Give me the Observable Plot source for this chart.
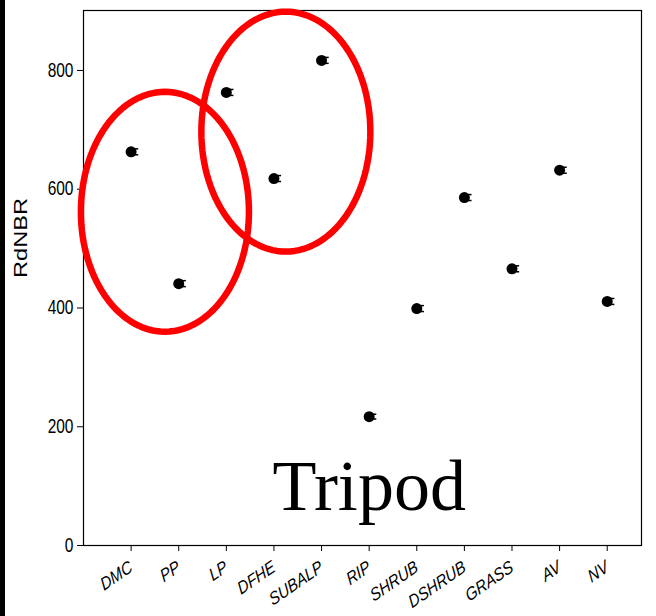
<!DOCTYPE html>
<html><head><meta charset="utf-8">
<script src="https://cdn.jsdelivr.net/npm/d3@7"></script>
<script src="https://cdn.jsdelivr.net/npm/@observablehq/plot@0.6"></script>
<style>
body{margin:0;background:#fff}
#wrap{position:relative;width:656px;height:616px;overflow:hidden}
#bar{position:absolute;left:0;top:0;width:5px;height:616px;background:#000}
#wrap svg{position:absolute;left:0;top:0}
</style>
</head><body><div id="wrap"><div id="bar"></div></div>
<script>
const categories = ["DMC","PP","LP","DFHE","SUBALP","RIP","SHRUB","DSHRUB","GRASS","AV","NV"];
const rdnbr = [663,441,763,618,817,217,399,586,466,632,411];
const stderr = [5,5,5,5,5,4,5,5,5,5,5];
const yTicks = [0,200,400,600,800];
const ellipseCx = [1.71, 4.25];
const ellipseCy = [562, 697];
const ellipseRx = [1.765, 1.775];
const ellipseRy = [202, 202];
const panelLabel = "Tripod";
const yLabel = "RdNBR";

const data = categories.map((c, k) => ({i: k + 1, name: c, v: rdnbr[k], e: stderr[k]}));

const ellipsePts = [];
ellipseCx.forEach((cx, k) => {
  for (let t = 0; t <= 120; t++) {
    const a = t / 120 * 2 * Math.PI;
    ellipsePts.push({k, x: cx + ellipseRx[k] * Math.cos(a), y: ellipseCy[k] + ellipseRy[k] * Math.sin(a)});
  }
});

const chart = Plot.plot({
  width: 656, height: 616,
  marginLeft: 83, marginTop: 10, marginRight: 15, marginBottom: 71,
  style: {fontFamily: "Liberation Sans, Arial, sans-serif", fontSize: "16px", color: "#000", background: "transparent"},
  x: {domain: [0, 11.72]},
  y: {domain: [0, 901]},
  marks: [
    Plot.frame({stroke: "#000", strokeWidth: 1.2}),
    Plot.axisY({ticks: yTicks, tickSize: 6, tickPadding: 4, fontSize: 15.5, label: null}),
    Plot.text([yLabel], {frameAnchor: "left", dx: -63, text: d => d, rotate: -90, fontSize: 19, fill: "#000", className: "ylab"}),
    Plot.axisX({ticks: categories.map((c, k) => k + 1), tickFormat: d => categories[d - 1], tickSize: 6, tickPadding: 14, tickRotate: -30, fontSize: 15, fontStyle: "italic", label: null}),
    Plot.ruleX(data, {x: "i", y1: d => d.v - d.e, y2: d => d.v + d.e, stroke: "#000", strokeWidth: 1.5}),
    Plot.link(data, {x1: "i", x2: d => d.i + 0.15, y1: d => d.v + d.e, y2: d => d.v + d.e, stroke: "#000", strokeWidth: 1.5}),
    Plot.link(data, {x1: "i", x2: d => d.i + 0.15, y1: d => d.v - d.e, y2: d => d.v - d.e, stroke: "#000", strokeWidth: 1.5}),
    Plot.dot(data, {x: "i", y: "v", r: 5.5, fill: "#000", stroke: "none"}),
    Plot.line(ellipsePts, {x: "x", y: "y", z: "k", stroke: "#ff0000", strokeWidth: 6.5, curve: "linear-closed"}),
    Plot.text([panelLabel], {x: 6, y: 59, text: d => d, fontSize: 72, fontFamily: "Liberation Serif, Times New Roman, serif", lineAnchor: "bottom", textAnchor: "middle", fill: "#000"})
  ]
});
document.getElementById("wrap").appendChild(chart);

// mimic the vertical stretch of the reference's text
function stretch(sel, sx, sy) {
  d3.select(chart).selectAll(sel).each(function() {
    const t = this.getAttribute("transform");
    if (t && /translate\([^)]*\)/.test(t)) {
      this.setAttribute("transform", t.replace(/(translate\([^)]*\))/, `$1 scale(${sx},${sy})`));
    }
  });
}
stretch('g[aria-label="y-axis tick label"] text', 1, 1.25);
stretch('g[aria-label="x-axis tick label"] text', 1, 1.2);
d3.select(chart).selectAll('g.ylab text, text.ylab, .ylab text').attr("textLength", 80).attr("lengthAdjust", "spacingAndGlyphs");
</script>
</body></html>
